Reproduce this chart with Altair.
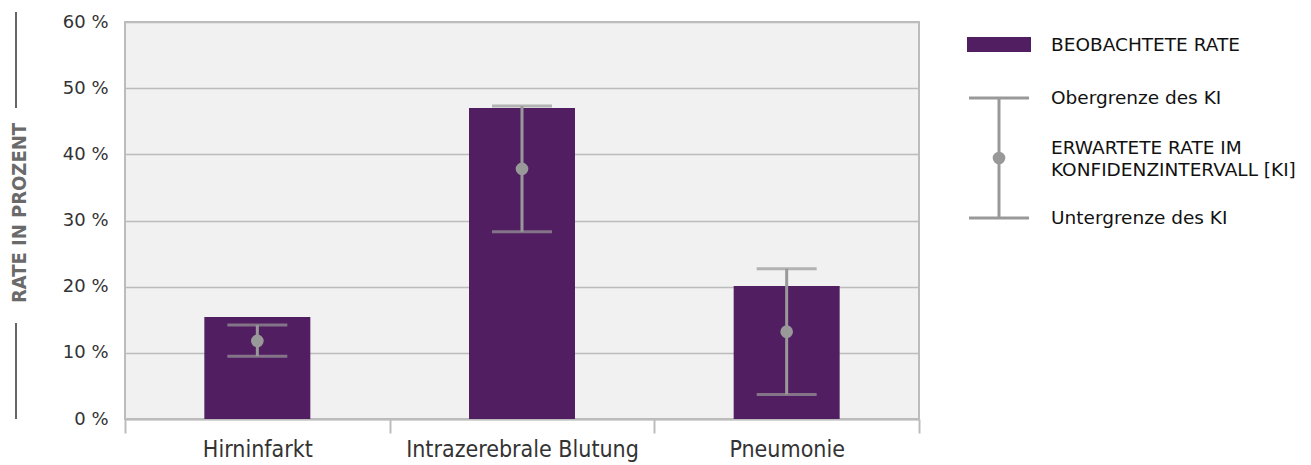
import altair as alt
import pandas as pd

categories = ["Hirninfarkt", "Intrazerebrale Blutung", "Pneumonie"]
observed = [15.4, 47.0, 20.1]
expected = [11.8, 37.8, 13.2]
ci_low = [9.5, 28.3, 3.7]
ci_high = [14.2, 47.3, 22.7]
y_ticks = [0, 10, 20, 30, 40, 50, 60]

legend_bar_label = "BEOBACHTETE RATE"
legend_upper = "Obergrenze des KI"
legend_expected = ["ERWARTETE RATE IM", "KONFIDENZINTERVALL [KI]"]
legend_lower = "Untergrenze des KI"
y_title = "RATE IN PROZENT"

PURPLE = "#521e62"
GREY = "#999999"
LINE = "#bcbcbc"
COND = "DejaVu Sans Condensed, Liberation Sans Narrow, sans-serif"

df = pd.DataFrame({
    "cat": categories,
    "obs": observed,
    "exp": expected,
    "lo": ci_low,
    "hi": ci_high,
})

xenc = alt.X("cat:N", sort=categories, title=None,
             scale=alt.Scale(paddingInner=0, paddingOuter=0),
             axis=alt.Axis(labelAngle=0, labelFontSize=23, labelColor="#333333",
                           labelFont=COND, labelLimit=400,
                           labelPadding=5, tickBand="extent", tickSize=14, tickWidth=2,
                           tickColor=LINE, domainColor=LINE, domainWidth=2))

base = alt.Chart(df)

bars = base.mark_bar(size=106, color=PURPLE).encode(
    x=xenc,
    y=alt.Y("obs:Q", title=None,
            scale=alt.Scale(domain=[0, 60]),
            axis=alt.Axis(values=y_ticks, labelExpr="datum.value + ' %'",
                          labelFontSize=18, labelColor="#333333", labelFont="DejaVu Sans",
                          labelPadding=17, ticks=False, domain=False,
                          gridColor=LINE, gridWidth=1.5)),
)

rule = base.mark_rule(color=GREY, strokeWidth=3).encode(
    x=alt.X("cat:N", sort=categories), y="lo:Q", y2="hi:Q")
cap_hi = base.mark_tick(color=GREY, size=60, thickness=3).encode(
    x=alt.X("cat:N", sort=categories), y="hi:Q")
cap_lo = base.mark_tick(color=GREY, size=60, thickness=3).encode(
    x=alt.X("cat:N", sort=categories), y="lo:Q")
pts = base.mark_point(filled=True, size=160, color=GREY, opacity=1).encode(
    x=alt.X("cat:N", sort=categories), y="exp:Q")

one = pd.DataFrame({"t": [""]})

def txt(s, x, y, size=18.5, color="#111111", font="DejaVu Sans", angle=0, align="left",
        weight="normal"):
    return alt.Chart(pd.DataFrame({"t": [s]})).mark_text(
        align=align, baseline="middle", fontSize=size, color=color, font=font, angle=angle,
        fontWeight=weight
    ).encode(text="t:N", x=alt.value(x), y=alt.value(y))

def seg(x1, x2, y1, y2, color, w):
    return alt.Chart(one).mark_rule(color=color, strokeWidth=w).encode(
        x=alt.value(x1), x2=alt.value(x2), y=alt.value(y1), y2=alt.value(y2))

# y title with decorative lines
ytitle = txt(y_title, -105, 191, size=20, color="#6a6a6a", font=COND,
             angle=270, align="center", weight="bold")
yline1 = seg(-109, -109, -10, 86, "#666666", 2)
yline2 = seg(-109, -109, 301, 397, "#666666", 2)

# legend
leg_rect = alt.Chart(one).mark_rect(color=PURPLE).encode(
    x=alt.value(842), x2=alt.value(906), y=alt.value(15), y2=alt.value(30))
leg_t1 = txt(legend_bar_label, 926, 23)
leg_v = seg(874, 874, 76, 196, GREY, 3)
leg_c1 = seg(844, 904, 76, 76, GREY, 3)
leg_c2 = seg(844, 904, 196, 196, GREY, 3)
leg_pt = alt.Chart(one).mark_point(filled=True, size=160, color=GREY, opacity=1).encode(
    x=alt.value(874), y=alt.value(136))
leg_t2 = txt(legend_upper, 926, 76)
leg_t3 = txt(legend_expected[0], 926, 126)
leg_t4 = txt(legend_expected[1], 926, 148)
leg_t5 = txt(legend_lower, 926, 196)

chart = alt.layer(
    bars, rule, cap_hi, cap_lo, pts,
    ytitle, yline1, yline2,
    leg_rect, leg_t1, leg_v, leg_c1, leg_c2, leg_pt, leg_t2, leg_t3, leg_t4, leg_t5,
).properties(
    width=794, height=397,
    background="white",
    padding={"left": 117, "top": 14, "right": 376, "bottom": 44},
    autosize=alt.AutoSizeParams(type="none"),
).configure_view(
    fill="#f1f1f1", stroke=LINE, strokeWidth=2
)

chart.save("out.html", embed_options={"renderer": "svg", "actions": False})
